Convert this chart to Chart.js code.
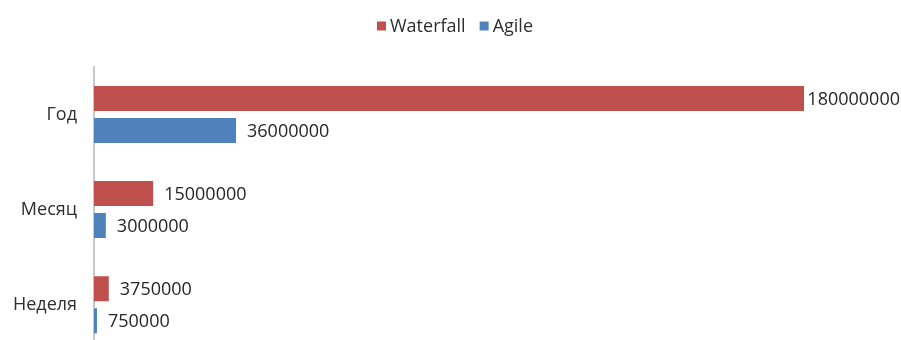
<!DOCTYPE html>
<html>
<head>
<meta charset="utf-8">
<script src="https://cdn.jsdelivr.net/npm/chart.js@4/dist/chart.umd.min.js"></script>
<style>
  html, body { margin: 0; padding: 0; background: #fff; overflow: hidden; }
  .chart { width: 901px; height: 380px; }
</style>
</head>
<body>
<div class="chart"><canvas id="myChart" width="901" height="380"></canvas></div>
<script>
const categories = ["Год", "Месяц", "Неделя"];
const waterfallValues = [180000000, 15000000, 3750000];
const agileValues = [36000000, 3000000, 750000];

const fontFamily = "'Open Sans', sans-serif";
const textColor = "#2e2e2e";

// value text just past the end of each bar, kept inside the canvas
const barValueLabels = {
    id: "barValueLabels",
    afterDatasetsDraw(chart) {
        const ctx = chart.ctx;
        ctx.save();
        ctx.font = "18px " + fontFamily;
        ctx.fillStyle = "#262626";
        ctx.textBaseline = "middle";
        ctx.textAlign = "left";
        chart.data.datasets.forEach((ds, i) => {
            const meta = chart.getDatasetMeta(i);
            meta.data.forEach((bar, j) => {
                const text = String(ds.data[j]);
                const w = ctx.measureText(text).width;
                let x = bar.x + 11;
                if (x + w > chart.width - 1) x = chart.width - 1 - w;
                ctx.fillText(text, x, bar.y + 1);
            });
        });
        ctx.restore();
    }
};

// small square + name for each series, in one row above the plot
const topLegend = {
    id: "topLegend",
    afterDraw(chart) {
        const ctx = chart.ctx;
        ctx.save();
        ctx.font = "18px " + fontFamily;
        ctx.textBaseline = "middle";
        ctx.textAlign = "left";
        const box = 9, gap = 4, spacing = 14, y = 26;
        const items = chart.data.datasets.map(ds => ({
            label: ds.label,
            color: ds.backgroundColor,
            w: box + gap + ctx.measureText(ds.label).width
        }));
        const total = items.reduce((s, it) => s + it.w, 0) + spacing * (items.length - 1);
        let x = 455 - total / 2;
        items.forEach(it => {
            ctx.fillStyle = it.color;
            ctx.fillRect(x, y - box / 2, box, box);
            ctx.fillStyle = textColor;
            ctx.fillText(it.label, x + box + gap, y + 1);
            x += it.w + spacing;
        });
        ctx.restore();
    }
};

const config = {
    type: "bar",
    data: {
        labels: categories,
        datasets: [
            {
                label: "Waterfall",
                data: waterfallValues,
                backgroundColor: "#C0504D",
            },
            {
                label: "Agile",
                data: agileValues,
                backgroundColor: "#4F81BD",
            }
        ]
    },
    options: {
        indexAxis: "y",
        responsive: false,
        animation: false,
        datasets: {
            bar: {
                categoryPercentage: 0.674,
                barPercentage: 0.78,
            }
        },
        layout: {
            padding: { top: 67, right: 97, left: 0, bottom: 0 }
        },
        plugins: {
            legend: { display: false },
            tooltip: { enabled: false }
        },
        scales: {
            x: {
                display: false,
                min: 0,
                max: 180000000
            },
            y: {
                afterFit: (scale) => { scale.width = 94; },
                grid: { display: false, drawTicks: false },
                border: { display: true, color: "#c8c8c8", width: 2 },
                ticks: {
                    padding: 17,
                    color: textColor,
                    font: { family: fontFamily, size: 18 }
                }
            }
        }
    },
    plugins: [barValueLabels, topLegend]
};

new Chart(document.querySelector("#myChart"), config);
</script>
</body>
</html>
